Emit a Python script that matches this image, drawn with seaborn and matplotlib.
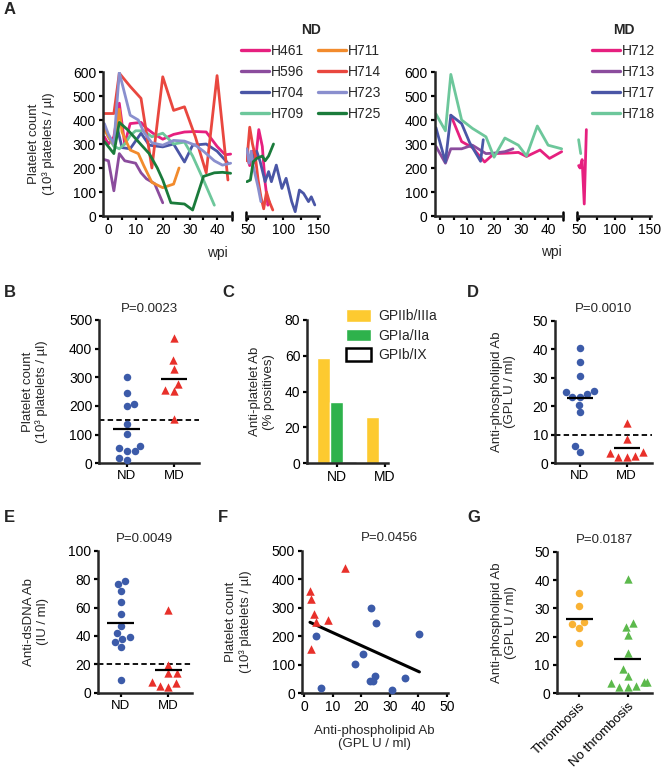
import numpy as np
import pandas as pd
import seaborn as sns
import matplotlib.pyplot as plt
from matplotlib.lines import Line2D
from matplotlib.patches import Patch

# ---------------- data: panel A (platelet count vs weeks post infection) ----------------
# ND animals
h461_wpi = [-1.5, 0, 2, 4, 6, 8, 12, 14, 17, 20, 24, 28, 32, 36, 40, 43, 45,
            48, 52, 56, 60, 65, 70, 74, 78, 80]
h461_count = [330, 300, 330, 470, 300, 385, 390, 365, 340, 320, 340, 350, 352, 350, 290, 255, 258,
              250, 210, 270, 220, 360, 290, 140, 45, 60]
h596_wpi = [-1.5, 0, 2, 4, 6, 8, 10, 12, 14, 17, 20]
h596_count = [235, 230, 105, 260, 230, 225, 220, 180, 155, 135, 55]
h704_wpi = [-1.5, 0, 2, 3, 5, 8, 12, 15, 20, 24, 28, 31, 36, 40, 44,
            48, 55, 62, 67, 74, 79, 83, 90, 98, 104, 112, 117, 123, 129, 136, 140, 145]
h704_count = [375, 330, 295, 380, 285, 280, 345, 295, 288, 300, 225, 295, 300, 270, 220,
              250, 240, 270, 226, 143, 185, 143, 212, 115, 157, 60, 18, 108, 94, 60, 80, 46]
h709_wpi = [-1.5, 0, 2, 4, 6, 8, 10, 13, 16, 20, 24, 28, 31, 35, 39]
h709_count = [370, 330, 290, 280, 300, 335, 355, 355, 330, 345, 300, 308, 250, 150, 45]
h711_wpi = [-1.5, 0, 2, 4, 5, 8, 11, 13, 16, 20, 24, 26]
h711_count = [360, 330, 300, 445, 350, 275, 260, 210, 140, 118, 133, 200]
h714_wpi = [-1.5, 2, 4, 8, 12, 16, 20, 24, 28, 32, 36, 40, 44,
            48, 52, 56, 60, 64, 68, 72, 76, 80, 85]
h714_count = [427, 427, 595, 540, 490, 200, 580, 440, 455, 330, 180, 585, 150,
              230, 370, 300, 250, 150, 80, 30, 100, 60, 25]
h723_wpi = [-1.5, 0, 2, 4, 8, 11, 13, 16, 20, 24, 28, 32, 35, 39, 42, 45,
            48, 51, 54, 57, 60, 64, 68]
h723_count = [385, 340, 300, 598, 420, 400, 350, 305, 295, 315, 312, 295, 270, 230, 212, 220,
              280, 220, 270, 210, 170, 120, 60]
h725_wpi = [-1.5, 2, 4, 7, 11, 15, 18, 20, 23, 28, 31, 35, 39, 42, 45,
            48, 53, 57, 62, 70, 74, 79, 86]
h725_count = [310, 260, 390, 360, 310, 260, 200, 150, 55, 50, 25, 165, 180, 182, 178,
              143, 150, 226, 240, 250, 230, 250, 300]

# MD animals
h712_wpi = [4, 8, 12, 16.5, 20, 25, 29, 32, 37, 40.5, 45, 49, 51, 54, 57, 60]
h712_count = [420, 310, 285, 225, 260, 262, 265, 248, 275, 240, 268, 210, 200, 235, 50, 360]
h713_wpi = [-1.5, 2, 4, 8, 12, 17, 20, 24, 27]
h713_count = [290, 220, 280, 280, 295, 260, 262, 268, 280]
h717_wpi = [-1.5, 2, 4, 8, 11, 15, 16]
h717_count = [368, 225, 420, 385, 305, 228, 318]
h718_wpi = [-1.5, 2, 4, 8, 12, 17, 20, 24, 29, 32, 36, 40, 45, 49, 52]
h718_count = [425, 355, 590, 400, 365, 330, 245, 325, 295, 250, 375, 295, 280, 318, 260]

nd_names = ["H461", "H596", "H704", "H709", "H711", "H714", "H723", "H725"]
nd_wpi = [h461_wpi, h596_wpi, h704_wpi, h709_wpi, h711_wpi, h714_wpi, h723_wpi, h725_wpi]
nd_count = [h461_count, h596_count, h704_count, h709_count,
            h711_count, h714_count, h723_count, h725_count]
md_names = ["H712", "H713", "H717", "H718"]
md_wpi = [h712_wpi, h713_wpi, h717_wpi, h718_wpi]
md_count = [h712_count, h713_count, h717_count, h718_count]

line_colors = {"H461": "#e6207f", "H596": "#8b4c9d", "H704": "#4a56a6", "H709": "#6dc79b",
               "H711": "#f28b2d", "H714": "#e9473f", "H723": "#8a8fce", "H725": "#1a7b3b",
               "H712": "#e6207f", "H713": "#8b4c9d", "H717": "#4a56a6", "H718": "#6dc79b"}

# ---------------- data: per-animal summary values (panels B, D, E, F, G) ----------------
nd_platelet = [300, 245, 207, 201, 138, 102, 62, 42, 44, 52, 11, 18]
nd_apl = [23.4, 25.2, 40.4, 4.1, 20.5, 17.9, 25.0, 23.1, 24.3, 35.4, 30.7, 6.1]
md_platelet = [438, 359, 330, 277, 257, 251, 154]
md_apl = [14.3, 2.1, 2.3, 3.6, 8.5, 4.1, 2.6]
nd_dsdna = [78.9, 76.6, 71.6, 64.0, 55.4, 47.2, 41.8, 39.0, 35.5, 37.6, 32.0, 8.9]
md_dsdna = [58.0, 19.5, 13.6, 13.6, 7.8, 6.8, 4.9, 4.2]
thromb_apl = [35.4, 30.7, 25.2, 24.3, 23.1, 17.9]
no_thromb_apl = [40.4, 25.0, 23.4, 20.5, 14.3, 8.5, 6.1, 4.1, 4.1, 3.6, 2.6, 2.3, 2.1]

# ---------------- data: panel C (anti-platelet antibodies) ----------------
c_groups = ["ND", "MD"]
c_antigens = ["GPIIb/IIIa", "GPIa/IIa", "GPIb/IX"]
c_nd_pct = [59, 34, 0]
c_md_pct = [26, 0, 0]

BLUE, RED = "#3c5ba9", "#e8302a"
ORANGE, GREEN = "#f9b234", "#5cb94c"
C_COLORS = ["#fdca30", "#2eb24c", "white"]

sns.set_style("ticks")
plt.rcParams["font.family"] = ["Liberation Sans", "DejaVu Sans"]
plt.rcParams["font.size"] = 9.5
plt.rcParams["axes.labelsize"] = 9.5

W, H = 661.0, 777.0
fig = plt.figure(figsize=(W / 100, H / 100), dpi=100)
TXT = 9.5


def add_ax(x0, x1, y0, y1):
    return fig.add_axes([x0 / W, 1 - y1 / H, (x1 - x0) / W, (y1 - y0) / H])


def style(ax):
    sns.despine(ax=ax)
    for s in ("left", "bottom"):
        ax.spines[s].set_linewidth(1.8)
    ax.tick_params(direction="out", length=3, width=1.6, labelsize=10, pad=2, colors="k")


def long_frame(names, wpis, counts):
    parts = [pd.DataFrame({"animal": n, "wpi": w, "count": c})
             for n, w, c in zip(names, wpis, counts)]
    return pd.concat(parts, ignore_index=True)


def time_panel(x_left, x_mid, x_right, names, wpis, counts, ylabel):
    df = long_frame(names, wpis, counts)
    ax1 = add_ax(x_left, x_mid, 72, 216)
    ax2 = add_ax(x_mid + 13.5, x_right, 72, 216)
    sns.lineplot(data=df[df.wpi < 46], x="wpi", y="count", hue="animal", palette=line_colors,
                 estimator=None, sort=False, lw=2.0, legend=False, ax=ax1)
    sns.lineplot(data=df[df.wpi > 46], x="wpi", y="count", hue="animal", palette=line_colors,
                 estimator=None, sort=False, lw=2.0, legend=False, ax=ax2)
    for ax in (ax1, ax2):
        style(ax)
        ax.set_ylim(0, 600)
        ax.set_xlabel("")
        ax.set_ylabel("")
    ax1.set_xlim(-2, 45.5)
    ax1.set_xticks(range(0, 45, 5))
    ax1.set_xticklabels([str(v) if v % 10 == 0 else "" for v in range(0, 45, 5)])
    ax1.set_yticks(range(0, 601, 100))
    ax1.plot([1, 1], [-0.03, 0.03], transform=ax1.transAxes, color="k", lw=1.8, clip_on=False)
    ax2.set_xlim(46, 151)
    ax2.set_xticks([50, 75, 100, 125, 150])
    ax2.set_xticklabels(["50", "", "100", "", "150"])
    ax2.spines["left"].set_visible(False)
    ax2.set_yticks([])
    ax2.plot([0, 0], [-0.03, 0.03], transform=ax2.transAxes, color="k", lw=1.8, clip_on=False)
    if ylabel:
        ax1.set_ylabel(ylabel)
        ax1.yaxis.set_label_coords(-0.37, 0.5)
    return ax1, ax2


# ---------------- panel A ----------------
ylab_plt = "Platelet count\n(10³ platelets / µl)"
time_panel(103, 232, 319, nd_names, nd_wpi, nd_count, ylab_plt)
time_panel(434.6, 563, 650.5, md_names, md_wpi, md_count, None)
fig.text(217 / W, 1 - 253 / H, "wpi", ha="center", va="center", fontsize=10)
fig.text(551 / W, 1 - 252 / H, "wpi", ha="center", va="center", fontsize=10)

nd_handles = [Line2D([], [], color=line_colors[n], lw=2.4) for n in nd_names]
md_handles = [Line2D([], [], color=line_colors[n], lw=2.4) for n in md_names]
leg_kw = dict(frameon=False, handlelength=2.0, handletextpad=0.15, labelspacing=0.5,
              borderpad=0, fontsize=10, title_fontproperties={"weight": "bold", "size": 10})
fig.legend(nd_handles, nd_names, ncol=2, title="ND", columnspacing=1.0, loc="upper center",
           bbox_to_anchor=(311 / W, 1 - 16 / H), **leg_kw)
fig.legend(md_handles, md_names, ncol=1, title="MD", loc="upper center",
           bbox_to_anchor=(624 / W, 1 - 16 / H), **leg_kw)


# ---------------- dot plots ----------------
def dot_panel(ax, order, values, colors, markers, ymax, ystep, cutoff=None):
    for name, vals, col, mk in zip(order, values, colors, markers):
        sub = pd.DataFrame({"group": name, "value": vals})
        sns.swarmplot(data=sub, x="group", y="value", order=order, color=col, marker=mk,
                      size=5.4 if mk == "o" else 6.0, linewidth=0, ax=ax, clip_on=False, zorder=3)
    for i, vals in enumerate(values):
        ax.hlines(np.mean(vals), i - 0.28, i + 0.28, color="k", lw=1.6, zorder=4)
    if cutoff is not None:
        ax.axhline(cutoff, ls=(0, (3, 1.8)), color="k", lw=1.3, zorder=2)
    style(ax)
    ax.set_ylim(0, ymax)
    ax.set_yticks(np.arange(0, ymax + 1, ystep))
    ax.set_xlabel("")


# B
axB = add_ax(99.3, 199.3, 320, 463.3)
dot_panel(axB, ["ND", "MD"], [nd_platelet, md_platelet], [BLUE, RED], ["o", "^"], 500, 100, 150)
axB.set_xlim(-0.58, 1.54)
axB.set_ylabel(ylab_plt)
axB.yaxis.set_label_coords(-0.51, 0.5)
axB.set_title("P=0.0023", fontsize=TXT, pad=6)

# C
axC = add_ax(307.3, 388, 320, 463.3)
df_c = pd.DataFrame({"group": np.repeat(c_groups, len(c_antigens)),
                     "antigen": c_antigens * len(c_groups),
                     "pct": c_nd_pct + c_md_pct})
sns.barplot(data=df_c, x="group", y="pct", hue="antigen", hue_order=c_antigens,
            palette=C_COLORS, saturation=1, width=0.8, legend=False, ax=axC)
for bar in axC.containers[2]:
    bar.set_edgecolor("k")
style(axC)
axC.set_xlim(-0.61, 1.06)
axC.set_ylim(0, 80)
axC.set_yticks(range(0, 81, 20))
axC.set_xlabel("")
axC.set_ylabel("Anti-platelet Ab\n(% positives)")
axC.yaxis.set_label_coords(-0.40, 0.5)
c_handles = [Patch(facecolor=C_COLORS[0]), Patch(facecolor=C_COLORS[1]),
             Patch(facecolor="white", edgecolor="k", lw=1.8)]
axC.legend(c_handles, c_antigens, loc="upper left", bbox_to_anchor=(0.48, 1.075),
           frameon=False, borderpad=0, borderaxespad=0, handlelength=1.8, handleheight=1.0,
           handletextpad=0.5, labelspacing=0.4, fontsize=10)

# D
axD = add_ax(555, 651.7, 320.7, 463.3)
dot_panel(axD, ["ND", "MD"], [nd_apl, md_apl], [BLUE, RED], ["o", "^"], 50, 10, 10)
axD.set_xlim(-0.535, 1.535)
axD.set_ylabel("Anti-phospholipid Ab\n(GPL U / ml)")
axD.yaxis.set_label_coords(-0.40, 0.5)
axD.set_title("P=0.0010", fontsize=TXT, pad=6)

# E
axE = add_ax(97.7, 191.7, 550.7, 692.7)
dot_panel(axE, ["ND", "MD"], [nd_dsdna, md_dsdna], [BLUE, RED], ["o", "^"], 100, 20, 20)
axE.set_xlim(-0.48, 1.49)
axE.set_ylabel("Anti-dsDNA Ab\n(IU / ml)")
axE.yaxis.set_label_coords(-0.52, 0.5)
axE.set_title("P=0.0049", fontsize=TXT, pad=6)

# F
axF = add_ax(301.7, 447.7, 550.7, 693.3)
sns.scatterplot(x=nd_apl, y=nd_platelet, color=BLUE, marker="o", s=32, linewidth=0,
                ax=axF, clip_on=False, zorder=3)
sns.scatterplot(x=md_apl, y=md_platelet, color=RED, marker="^", s=38, linewidth=0,
                ax=axF, clip_on=False, zorder=3)
sns.regplot(x=np.array(nd_apl + md_apl), y=np.array(nd_platelet + md_platelet),
            scatter=False, ci=None, color="k", line_kws={"lw": 2.2}, ax=axF)
style(axF)
axF.set_xlim(-0.8, 50.3)
axF.set_ylim(0, 500)
axF.set_xticks(range(0, 51, 10))
axF.set_yticks(range(0, 501, 100))
axF.set_ylabel(ylab_plt)
axF.yaxis.set_label_coords(-0.34, 0.5)
axF.set_xlabel("Anti-phospholipid Ab\n(GPL U / ml)")
axF.xaxis.set_label_coords(0.5, -0.22)
axF.text(0.6, 1.045, "P=0.0456", transform=axF.transAxes, ha="center", va="bottom", fontsize=TXT)

# G
axG = add_ax(556.7, 651.7, 551.7, 693.3)
dot_panel(axG, ["Thrombosis", "No thrombosis"], [thromb_apl, no_thromb_apl],
          [ORANGE, GREEN], ["o", "^"], 50, 10)
axG.set_xlim(-0.47, 1.5)
axG.set_xticks([0, 1])
axG.set_xticklabels(["Thrombosis", "No thrombosis"], rotation=45, ha="right",
                    rotation_mode="anchor", fontsize=9.5)
axG.set_ylabel("Anti-phospholipid Ab\n(GPL U / ml)")
axG.yaxis.set_label_coords(-0.42, 0.5)
axG.set_title("P=0.0187", fontsize=TXT, pad=6)

for ax in (axB, axD, axE):
    for lab in ax.get_xticklabels():
        lab.set_fontsize(9.5)

# panel letters
for letter, x, y in [("A", 4, 10), ("B", 4, 292), ("C", 222, 292), ("D", 467, 292),
                     ("E", 4, 517), ("F", 218, 517), ("G", 467, 517)]:
    fig.text(x / W, 1 - y / H, letter, fontsize=12, fontweight="bold", ha="left", va="center")

fig.savefig("out.png", dpi=100)
